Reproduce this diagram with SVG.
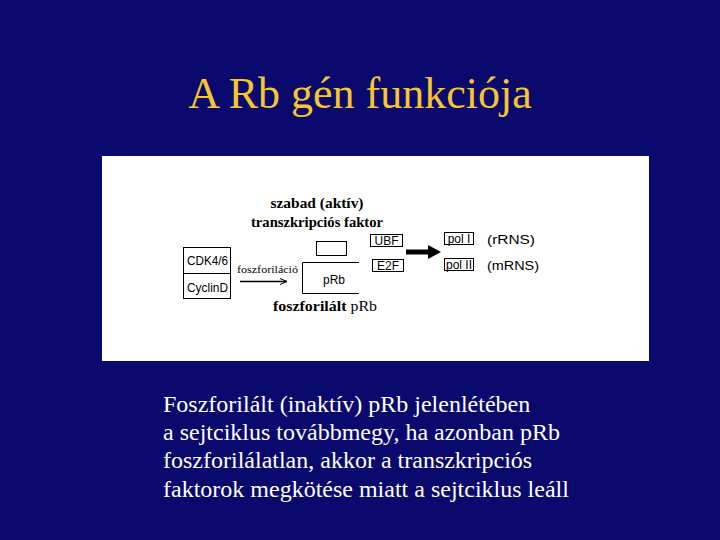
<svg xmlns="http://www.w3.org/2000/svg" width="720" height="540" viewBox="0 0 720 540">
<defs>
<style>
.bg{fill:#0a0a6e}
.hd{font-family:'Liberation Serif','Times New Roman',serif;font-size:44px;fill:#f6c531;text-anchor:middle}
.body{font-family:'Liberation Serif','Times New Roman',serif;font-size:24px;fill:#ffffff}
.box{fill:#ffffff;stroke:#000000;stroke-width:1}
.ln{fill:none;stroke:#000000;stroke-width:1}
.sans{font-family:'Liberation Sans',Arial,sans-serif;font-size:12px;fill:#000000}
.sb{font-family:'Liberation Serif','Times New Roman',serif;font-size:15px;font-weight:bold;fill:#000000;text-anchor:middle}
.sr{font-family:'Liberation Serif','Times New Roman',serif;font-size:11px;fill:#000000}
</style>
<marker id="ah" markerWidth="8" markerHeight="8" refX="7" refY="4" orient="auto" markerUnits="userSpaceOnUse">
<path d="M0,1 L7,4 L0,7" fill="none" stroke="#000"/>
</marker>
</defs>
<rect class="bg" x="0" y="0" width="720" height="540"/>
<text class="hd" x="360" y="108">A Rb gén funkciója</text>
<rect x="102" y="156" width="547" height="205" fill="#ffffff"/>

<g id="label-szabad">
<text class="sb" x="317" y="208" textLength="93" lengthAdjust="spacingAndGlyphs">szabad (aktív)</text>
<text class="sb" x="317" y="227" textLength="132" lengthAdjust="spacingAndGlyphs">transzkripciós faktor</text>
</g>
<g id="cdk">
<rect class="box" x="183.5" y="247.5" width="47" height="51"/>
<line class="ln" x1="183.5" y1="273.5" x2="230.5" y2="273.5"/>
<text class="sans" x="187" y="265" textLength="41" lengthAdjust="spacingAndGlyphs">CDK4/6</text>
<text class="sans" x="187" y="292" textLength="41" lengthAdjust="spacingAndGlyphs">CyclinD</text>
</g>
<g id="foszforilacio">
<text class="sr" x="237" y="273" textLength="61" lengthAdjust="spacingAndGlyphs">foszforiláció</text>
</g>
<g id="tf-free">
<rect class="box" x="316.5" y="241.5" width="30" height="14"/>
</g>
<g id="prb">
<path class="ln" d="M359,262.5 H302.5 V293.5 H359"/>
<text class="sans" x="334" y="284" font-size="17" text-anchor="middle">pRb</text>
</g>
<g id="label-foszforilalt">
<text class="sb" x="325" y="311" textLength="104" lengthAdjust="spacingAndGlyphs">foszforilált <tspan font-weight="normal">pRb</tspan></text>
</g>
<g id="ubf">
<rect class="box" x="370.5" y="234.5" width="32" height="12"/>
<text class="sans" x="386.5" y="245" font-size="10" text-anchor="middle">UBF</text>
</g>
<g id="e2f">
<rect class="box" x="372.5" y="259.5" width="31" height="12"/>
<text class="sans" x="388" y="270" font-size="10" text-anchor="middle">E2F</text>
</g>
<g id="pol1">
<rect class="box" x="444.5" y="232.5" width="29" height="12"/>
<text class="sans" x="459" y="243" font-size="10" text-anchor="middle">pol I</text>
<text class="sans" x="487" y="244" font-size="15" textLength="48" lengthAdjust="spacingAndGlyphs">(rRNS)</text>
</g>
<g id="pol2">
<rect class="box" x="444.5" y="258.5" width="29" height="12"/>
<text class="sans" x="459" y="269" font-size="10" text-anchor="middle">pol II</text>
<text class="sans" x="487" y="270" font-size="15" textLength="52" lengthAdjust="spacingAndGlyphs">(mRNS)</text>
</g>
<g id="connectors">
<line x1="240" y1="281.5" x2="287" y2="281.5" stroke="#000" stroke-width="1.5" marker-end="url(#ah)"/>
<line x1="406" y1="252" x2="430" y2="252" stroke="#000" stroke-width="5"/>
<polygon points="428,245 441,252 428,259" fill="#000"/>
</g>

<g id="body">
<text class="body" x="163" y="412">Foszforilált (inaktív) pRb jelenlétében</text>
<text class="body" x="163" y="440">a sejtciklus továbbmegy, ha azonban pRb</text>
<text class="body" x="163" y="468">foszforilálatlan, akkor a transzkripciós</text>
<text class="body" x="163" y="497">faktorok megkötése miatt a sejtciklus leáll</text>
</g>
</svg>
